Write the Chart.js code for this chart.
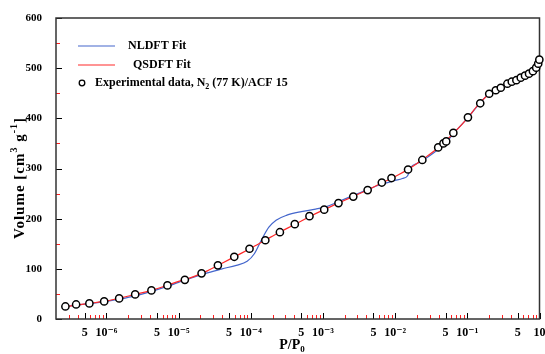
<!DOCTYPE html>
<html lang="en">
<head>
    <meta charset="UTF-8">
    <title>NLDFT / QSDFT fit of N2 isotherm</title>
    <script src="https://cdn.jsdelivr.net/npm/chart.js"></script>
    <style>
        html, body { margin: 0; padding: 0; background: #fff; }
        #wrap { width: 545px; height: 354px; }
    </style>
</head>
<body>
    <div id="wrap"><canvas id="isoChart" width="545" height="354"></canvas></div>

    <script>
        // experimental points, N2 (77 K) / ACF 15
        const expX = [2.7e-7, 3.8e-7, 5.8e-7, 9.3e-7, 1.5e-6, 2.5e-6, 4.2e-6, 7.0e-6, 1.22e-5, 2.08e-5,
            3.5e-5, 5.9e-5, 9.6e-5, 1.59e-4, 2.53e-4, 4.07e-4, 6.5e-4, 1.04e-3, 1.64e-3, 2.63e-3,
            4.16e-3, 6.54e-3, 8.9e-3, 0.0151, 0.0238, 0.0395, 0.0467, 0.051, 0.064, 0.102,
            0.151, 0.201, 0.248, 0.291, 0.359, 0.413, 0.478, 0.55, 0.63, 0.716,
            0.81, 0.90, 0.96, 0.995];
        const expY = [25, 29, 31, 35, 41, 49, 57, 67, 78, 91,
            107, 124, 140, 157, 173, 189, 205, 218, 231, 244,
            257, 272, 281, 298, 317, 342, 350, 354, 371, 402,
            430, 449, 456, 461, 469, 473, 476, 481, 485, 489,
            494, 501, 509, 517];

        // NLDFT fit (blue)
        const nldftX = [2.5e-7, 4e-7, 6.3e-7, 1e-6, 1.58e-6, 2.5e-6, 4e-6, 6.3e-6, 1e-5, 1.58e-5,
            2.5e-5, 4e-5, 6.3e-5, 8.9e-5, 1.12e-4, 1.41e-4, 1.78e-4, 2.24e-4, 3.16e-4, 5e-4,
            7.9e-4, 1.12e-3, 1.58e-3, 2.5e-3, 4e-3, 6.3e-3, 0.01, 0.0126, 0.0148, 0.0166,
            0.02, 0.0251, 0.0355, 0.05, 0.063, 0.1, 0.141, 0.2, 0.316, 0.5, 0.794, 1.0];
        const nldftY = [24, 28, 31, 35, 40, 46, 54, 63, 73, 83,
            92, 100, 107, 115, 130, 158, 183, 197, 207, 214,
            219, 224, 233, 245, 257, 268, 276, 280, 285, 303,
            310, 318, 333, 350, 368, 400, 426, 449, 465, 477, 493, 515];

        // QSDFT fit (red)
        const qsdftX = [2.5e-7, 4e-7, 6.3e-7, 1e-6, 1.58e-6, 2.5e-6, 4e-6, 6.3e-6, 1e-5, 1.58e-5,
            2.5e-5, 4e-5, 6.3e-5, 1e-4, 1.58e-4, 2.5e-4, 4e-4, 6.3e-4, 1e-3, 1.58e-3,
            2.5e-3, 4e-3, 6.3e-3, 0.01, 0.0158, 0.0251, 0.0398, 0.063, 0.1, 0.141,
            0.2, 0.316, 0.5, 0.794, 1.0];
        const qsdftY = [24, 28, 32, 36, 42, 49, 56, 65, 75, 84,
            96, 111, 126, 141, 157, 173, 188, 203, 217, 230,
            243, 256, 270, 284, 300, 320, 342, 369, 400, 427,
            448, 464, 477, 492, 516];

        // axis ticks
        const xMajorTicks = [5e-7, 1e-6, 5e-6, 1e-5, 5e-5, 1e-4, 5e-4, 1e-3, 5e-3, 1e-2, 5e-2, 1e-1, 5e-1, 1];
        const xMajorLabels = ['5', '10⁻⁶', '5', '10⁻⁵', '5', '10⁻⁴', '5', '10⁻³', '5', '10⁻²', '5', '10⁻¹', '5', '10'];
        const xMinorTicks = [3e-7, 4e-7, 6e-7, 7e-7, 8e-7, 9e-7,
            2e-6, 3e-6, 4e-6, 6e-6, 7e-6, 8e-6, 9e-6,
            2e-5, 3e-5, 4e-5, 6e-5, 7e-5, 8e-5, 9e-5,
            2e-4, 3e-4, 4e-4, 6e-4, 7e-4, 8e-4, 9e-4,
            2e-3, 3e-3, 4e-3, 6e-3, 7e-3, 8e-3, 9e-3,
            2e-2, 3e-2, 4e-2, 6e-2, 7e-2, 8e-2, 9e-2,
            0.2, 0.3, 0.4, 0.6, 0.7, 0.8, 0.9];
        const yTicks = [0, 100, 200, 300, 400, 500, 600];
        const yMinorTicks = [50, 150, 250, 350, 450, 550];

        const FONT = '"Liberation Serif", "DejaVu Serif", serif';

        function toPoints(xs, ys) {
            return xs.map((x, i) => ({ x: x, y: ys[i] }));
        }

        // text with super/subscript pieces
        function richWidth(ctx, parts, size) {
            let w = 0;
            parts.forEach(p => {
                ctx.font = 'bold ' + (p.s ? Math.round(size * 0.65) : size) + 'px ' + FONT;
                w += ctx.measureText(p.t).width;
            });
            return w;
        }
        function richText(ctx, parts, x, y, size) {
            ctx.textBaseline = 'middle';
            ctx.textAlign = 'left';
            parts.forEach(p => {
                const sz = p.s ? Math.round(size * 0.65) : size;
                ctx.font = 'bold ' + sz + 'px ' + FONT;
                let dy = 0;
                if (p.s === 'sup') dy = -size * 0.38;
                if (p.s === 'sub') dy = size * 0.3;
                ctx.fillText(p.t, x, y + dy);
                x += ctx.measureText(p.t).width;
            });
        }

        const decorations = {
            id: 'decorations',
            beforeDatasetsDraw(chart) {
                const ctx = chart.ctx, a = chart.chartArea;
                const xs = chart.scales.x, ys = chart.scales.y;
                ctx.save();
                ctx.lineWidth = 1;
                ctx.strokeStyle = '#000';
                xMajorTicks.forEach(v => {
                    const px = Math.round(xs.getPixelForValue(v)) + 0.5;
                    ctx.beginPath(); ctx.moveTo(px, a.bottom); ctx.lineTo(px, a.bottom - 6); ctx.stroke();
                });
                yTicks.forEach(v => {
                    const py = Math.round(ys.getPixelForValue(v)) + 0.5;
                    ctx.beginPath(); ctx.moveTo(a.left, py); ctx.lineTo(a.left + 6, py); ctx.stroke();
                });
                ctx.strokeStyle = '#ff2020';
                xMinorTicks.forEach(v => {
                    const px = Math.round(xs.getPixelForValue(v)) + 0.5;
                    ctx.beginPath(); ctx.moveTo(px, a.bottom); ctx.lineTo(px, a.bottom - 4); ctx.stroke();
                });
                yMinorTicks.forEach(v => {
                    const py = Math.round(ys.getPixelForValue(v)) + 0.5;
                    ctx.beginPath(); ctx.moveTo(a.left, py); ctx.lineTo(a.left + 4, py); ctx.stroke();
                });
                ctx.strokeStyle = '#333';
                ctx.lineWidth = 1.5;
                ctx.strokeRect(a.left, a.top, a.right - a.left, a.bottom - a.top);
                ctx.restore();
            },
            afterDraw(chart) {
                const ctx = chart.ctx;
                const ds = chart.data.datasets;
                ctx.save();
                ctx.fillStyle = '#000';

                // legend
                ctx.lineWidth = 1.2;
                ctx.strokeStyle = ds[1].borderColor;
                ctx.beginPath(); ctx.moveTo(78, 46); ctx.lineTo(115, 46); ctx.stroke();
                richText(ctx, [{ t: 'NLDFT Fit' }], 128, 46, 12);
                ctx.strokeStyle = ds[0].borderColor;
                ctx.beginPath(); ctx.moveTo(78, 65); ctx.lineTo(115, 65); ctx.stroke();
                richText(ctx, [{ t: 'QSDFT Fit' }], 133, 65, 12);
                ctx.strokeStyle = '#000';
                ctx.lineWidth = 1.3;
                ctx.beginPath(); ctx.arc(82, 83, 2.8, 0, Math.PI * 2);
                ctx.fillStyle = '#fff'; ctx.fill(); ctx.stroke();
                ctx.fillStyle = '#000';
                richText(ctx, [{ t: 'Experimental data, N' }, { t: '2', s: 'sub' }, { t: ' (77 K)/ACF 15' }], 95, 83, 12);

                // axis titles
                const yParts = [{ t: 'Volume [cm' }, { t: '3', s: 'sup' }, { t: ' g' }, { t: '-1', s: 'sup' }, { t: ']' }];
                ctx.letterSpacing = '1px';
                const yw = richWidth(ctx, yParts, 15);
                ctx.translate(20, 178);
                ctx.rotate(-Math.PI / 2);
                richText(ctx, yParts, -yw / 2, 0, 15);
                ctx.setTransform(1, 0, 0, 1, 0, 0);
                ctx.letterSpacing = '0px';
                const xParts = [{ t: 'P/P' }, { t: '0', s: 'sub' }];
                const xw = richWidth(ctx, xParts, 14);
                richText(ctx, xParts, 292 - xw / 2, 345, 14);
                ctx.restore();
            }
        };

        const ctx = document.getElementById('isoChart').getContext('2d');
        const isoChart = new Chart(ctx, {
            type: 'scatter',
            data: {
                datasets: [
                    {
                        label: 'QSDFT Fit',
                        data: toPoints(qsdftX, qsdftY),
                        showLine: true,
                        borderColor: '#ff2a2a',
                        borderWidth: 1.2,
                        pointRadius: 0,
                        cubicInterpolationMode: 'monotone',
                        order: 1
                    },
                    {
                        label: 'NLDFT Fit',
                        data: toPoints(nldftX, nldftY),
                        showLine: true,
                        borderColor: '#4466cc',
                        borderWidth: 1.2,
                        pointRadius: 0,
                        cubicInterpolationMode: 'monotone',
                        order: 2
                    },
                    {
                        label: 'Experimental data',
                        data: toPoints(expX, expY),
                        showLine: false,
                        pointRadius: 3.6,
                        pointBackgroundColor: '#fff',
                        pointBorderColor: '#000',
                        pointBorderWidth: 1.5,
                        order: 0
                    }
                ]
            },
            options: {
                responsive: false,
                animation: false,
                clip: false,
                layout: { padding: { top: 18, right: 5, left: 0, bottom: 0 } },
                plugins: {
                    legend: { display: false },
                    tooltip: { enabled: false }
                },
                scales: {
                    x: {
                        type: 'logarithmic',
                        min: 2e-7,
                        max: 1,
                        grid: { display: false },
                        border: { display: false },
                        afterBuildTicks: s => { s.ticks = xMajorTicks.map(v => ({ value: v })); },
                        afterFit: s => { s.height = 35; },
                        ticks: {
                            autoSkip: false,
                            maxRotation: 0,
                            padding: -1,
                            color: '#000',
                            font: { family: FONT, size: 12, weight: 'bold' },
                            callback: (v, i) => xMajorLabels[i]
                        }
                    },
                    y: {
                        min: 0,
                        max: 600,
                        grid: { display: false },
                        border: { display: false },
                        afterBuildTicks: s => { s.ticks = yTicks.map(v => ({ value: v })); },
                        afterFit: s => { s.width = 56; },
                        ticks: {
                            padding: 6,
                            color: '#000',
                            font: { family: FONT, size: 11, weight: 'bold' }
                        }
                    }
                }
            },
            plugins: [decorations]
        });
    </script>
</body>
</html>
